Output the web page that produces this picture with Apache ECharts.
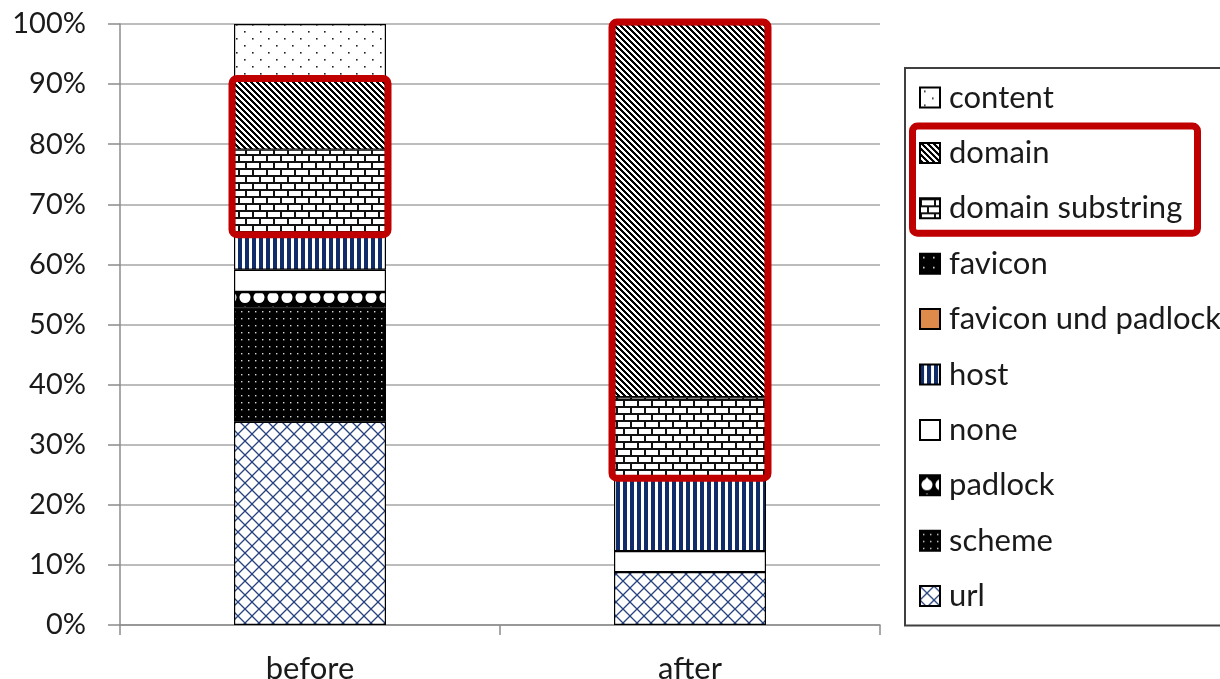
<!DOCTYPE html>
<html><head><meta charset="utf-8">
<script src="https://cdn.jsdelivr.net/npm/echarts@6/dist/echarts.min.js"></script>
<style>html,body{margin:0;padding:0;background:#fff}#c{width:1220px;height:679px}</style>
</head><body><div id="c"></div>
<script>
// ---------- DATA ----------
const categories = ['before', 'after'];
// stack order, bottom -> top
const url               = [33.8, 8.8];
const scheme            = [19.0, 0];
const padlock           = [2.6, 0];
const none              = [3.7, 3.5];
const host              = [6.0, 12.3];
const faviconUndPadlock = [0, 0];
const favicon           = [0, 0];
const domainSubstring   = [14.0, 13.3];
const domain            = [11.5, 62.1];
const content           = [9.4, 0];
const legendOrder = ['content', 'domain', 'domain substring', 'favicon', 'favicon und padlock', 'host', 'none', 'padlock', 'scheme', 'url'];
const highlighted = ['domain substring', 'domain'];

// ---------- PATTERNS ----------
function tile(w, h, draw) {
  const c = document.createElement('canvas'); c.width = w; c.height = h;
  const g = c.getContext('2d'); draw(g, w, h);
  return { image: c, repeat: 'repeat' };
}
const P = {
  url: tile(14, 14, (g) => {
    g.fillStyle = '#fff'; g.fillRect(0, 0, 14, 14);
    g.strokeStyle = '#26417f'; g.lineWidth = 1.3;
    g.beginPath(); g.moveTo(0, 0); g.lineTo(14, 14); g.moveTo(14, 0); g.lineTo(0, 14); g.stroke();
  }),
  scheme: tile(7, 7, (g) => {
    g.fillStyle = '#000'; g.fillRect(0, 0, 7, 7);
    g.fillStyle = '#d8d8d8'; g.fillRect(3, 3, 1.4, 1.4);
  }),
  padlock: tile(14, 16, (g) => {
    g.fillStyle = '#000'; g.fillRect(0, 0, 14, 16);
    g.fillStyle = '#fff';
    g.beginPath(); g.arc(7, 9.5, 5.5, 0, Math.PI * 2); g.fill();
    g.beginPath(); g.moveTo(1.5, 8.5); g.lineTo(12.5, 8.5); g.lineTo(7, 2); g.closePath(); g.fill();
  }),
  none: '#ffffff',
  host: tile(7, 4, (g) => {
    g.fillStyle = '#fff'; g.fillRect(0, 0, 7, 4);
    g.fillStyle = '#102d6a'; g.fillRect(0, 0, 4, 4);
  }),
  'favicon und padlock': '#DD8A4B',
  favicon: tile(10, 10, (g) => {
    g.fillStyle = '#000'; g.fillRect(0, 0, 10, 10);
    g.fillStyle = '#e0e0e0'; g.fillRect(3, 3, 1.6, 1.6);
  }),
  'domain substring': tile(14, 14, (g) => {
    g.fillStyle = '#111'; g.fillRect(0, 0, 14, 14);
    g.fillStyle = '#fff';
    g.fillRect(2, 2, 12, 5);
    g.fillRect(0, 9, 7, 5); g.fillRect(9, 9, 5, 5);
  }),
  domain: tile(6, 6, (g) => {
    g.fillStyle = '#fff'; g.fillRect(0, 0, 6, 6);
    g.fillStyle = '#000';
    for (let x = 0; x < 6; x++) for (let y = 0; y < 6; y++) if (((x - y + 12) % 6) < 3) g.fillRect(x, y, 1, 1);
  }),
  content: tile(16, 14, (g) => {
    g.fillStyle = '#fff'; g.fillRect(0, 0, 16, 14);
    g.fillStyle = '#222'; g.fillRect(4, 3, 1.6, 1.6); g.fillRect(12, 10, 1.6, 1.6);
  })
};

const stackSeries = [
  ['url', url], ['scheme', scheme], ['padlock', padlock], ['none', none], ['host', host],
  ['favicon und padlock', faviconUndPadlock], ['favicon', favicon],
  ['domain substring', domainSubstring], ['domain', domain], ['content', content]
];

const FONT = 'Lato';
const TXT = '#1a1a1a';
const chart = echarts.init(document.getElementById('c'), null, { renderer: 'canvas' });

const LEG_LEFT = 905, LEG_TOP = 68, LEG_PITCH = 55.4, LEG_PAD_TOP = 14, ITEM_H = 31;

chart.setOption({
  animation: false,
  backgroundColor: '#fff',
  grid: { left: 120, right: 340, top: 24, bottom: 54, outerBoundsMode: 'none', containLabel: false },
  xAxis: {
    type: 'category', data: categories,
    axisLine: { lineStyle: { color: '#8c8c8c', width: 1.5 } },
    axisTick: { show: true, length: 10, lineStyle: { color: '#8c8c8c', width: 1.5 } },
    axisLabel: { color: TXT, fontFamily: FONT, fontSize: 31, margin: 28 }
  },
  yAxis: {
    type: 'value', min: 0, max: 100, interval: 10,
    axisLine: { show: true, lineStyle: { color: '#8c8c8c', width: 1.5 } },
    axisTick: { show: true, length: 12, lineStyle: { color: '#8c8c8c', width: 1.5 } },
    axisLabel: { color: TXT, fontFamily: FONT, fontSize: 29, margin: 34, formatter: '{value}%' },
    splitLine: { lineStyle: { color: '#a6a6a6', width: 1.5 } }
  },
  legend: {
    orient: 'vertical', left: LEG_LEFT, top: LEG_TOP,
    data: legendOrder,
    padding: [LEG_PAD_TOP, 14, 14, 14],
    itemGap: LEG_PITCH - ITEM_H,
    itemWidth: 20, itemHeight: 20, icon: 'rect',
    borderColor: '#404040', borderWidth: 2,
    textStyle: { color: TXT, fontFamily: FONT, fontSize: 31, lineHeight: ITEM_H, padding: [0, 0, 0, 4] },
    selectedMode: false
  },
  series: stackSeries.map(([name, vals]) => ({
    name, type: 'bar', stack: 'all', data: vals, barWidth: '40%',
    itemStyle: { color: P[name], borderColor: '#000', borderWidth: 1.2 },
    emphasis: { disabled: true }
  }))
});

// ---------- red highlight boxes (derived from data via axis scales) ----------
function cum(upToName, idx) {
  let s = 0;
  for (const [n, v] of stackSeries) { s += v[idx]; if (n === upToName) break; }
  return s;
}
const graphics = [];
const c0 = chart.convertToPixel({ gridIndex: 0 }, [0, 0]);
const c1 = chart.convertToPixel({ gridIndex: 0 }, [1, 0]);
const band = c1[0] - c0[0];
categories.forEach((cat, i) => {
  const bottomVal = cum('favicon', i);
  const topVal = cum('domain', i);
  if (topVal - bottomVal <= 0) return;
  const pTop = chart.convertToPixel({ gridIndex: 0 }, [i, topVal]);
  const pBot = chart.convertToPixel({ gridIndex: 0 }, [i, bottomVal]);
  const half = band * 0.2;
  graphics.push({
    type: 'rect', z: 100,
    shape: { x: pTop[0] - half - 2, y: pTop[1] - 2, width: 2 * half + 4, height: pBot[1] - pTop[1] + 3, r: 5 },
    style: { fill: 'none', stroke: '#C00000', lineWidth: 7 }
  });
});
// legend box around the two highlighted legend entries
const iA = legendOrder.indexOf(highlighted[1]), iB = legendOrder.indexOf(highlighted[0]);
const cA = LEG_TOP + LEG_PAD_TOP + ITEM_H / 2 + iA * LEG_PITCH;
const cB = LEG_TOP + LEG_PAD_TOP + ITEM_H / 2 + iB * LEG_PITCH;
graphics.push({
  type: 'rect', z: 100,
  shape: { x: LEG_LEFT + 7.5, y: cA - 27, width: 285, height: cB - cA + 52, r: 5 },
  style: { fill: 'none', stroke: '#C00000', lineWidth: 7 }
});
chart.setOption({ graphic: graphics });
</script>
</body></html>
